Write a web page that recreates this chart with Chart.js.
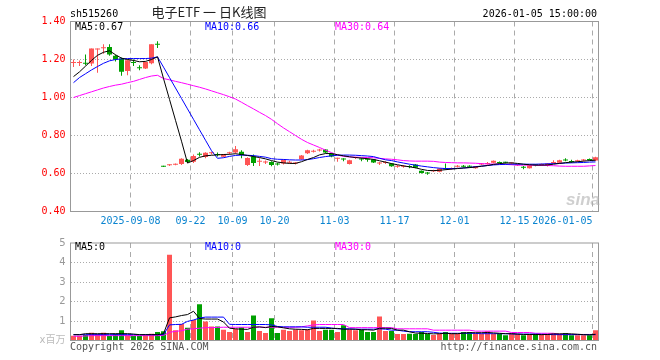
<!DOCTYPE html>
<html>
<head>
<meta charset="utf-8">
<title>电子ETF 日K线图</title>
<script src="https://cdn.jsdelivr.net/npm/chart.js@4.4.1/dist/chart.umd.min.js"></script>
<style>
  html, body { margin: 0; padding: 0; background: #fff; }
  #wrap { position: relative; width: 660px; height: 360px; }
  #wrap canvas { position: absolute; left: 0; }
  #kline { top: 0; }
  #volume { top: 232px; }
</style>
</head>
<body>
<div id="wrap">
  <canvas id="kline" width="660" height="232"></canvas>
  <canvas id="volume" width="660" height="128"></canvas>
</div>
<script>
// trading days shown on the chart
const dates = [
  '2025-08-25', '2025-08-26', '2025-08-27', '2025-08-28', '2025-08-29',
  '2025-09-01', '2025-09-02', '2025-09-03', '2025-09-04', '2025-09-05',
  '2025-09-08', '2025-09-09', '2025-09-10', '2025-09-11', '2025-09-12',
  '2025-09-15', '2025-09-16', '2025-09-17', '2025-09-18', '2025-09-19',
  '2025-09-22', '2025-09-23', '2025-09-24', '2025-09-25', '2025-09-26',
  '2025-09-29', '2025-09-30', '2025-10-09', '2025-10-10', '2025-10-13',
  '2025-10-14', '2025-10-15', '2025-10-16', '2025-10-17', '2025-10-20',
  '2025-10-21', '2025-10-22', '2025-10-23', '2025-10-24', '2025-10-27',
  '2025-10-28', '2025-10-29', '2025-10-30', '2025-10-31', '2025-11-03',
  '2025-11-04', '2025-11-05', '2025-11-06', '2025-11-07', '2025-11-10',
  '2025-11-11', '2025-11-12', '2025-11-13', '2025-11-14', '2025-11-17',
  '2025-11-18', '2025-11-19', '2025-11-20', '2025-11-21', '2025-11-24',
  '2025-11-25', '2025-11-26', '2025-11-27', '2025-11-28', '2025-12-01',
  '2025-12-02', '2025-12-03', '2025-12-04', '2025-12-05', '2025-12-08',
  '2025-12-09', '2025-12-10', '2025-12-11', '2025-12-12', '2025-12-15',
  '2025-12-16', '2025-12-17', '2025-12-18', '2025-12-19', '2025-12-22',
  '2025-12-23', '2025-12-24', '2025-12-25', '2025-12-26', '2025-12-29',
  '2025-12-30', '2025-12-31', '2026-01-05',
];

const tickDates = ['2025-09-08', '2025-09-22', '2025-10-09', '2025-10-20', '2025-11-03',
  '2025-11-17', '2025-12-01', '2025-12-15', '2026-01-05'];
const tickLabels = ['2025-09-08', '09-22', '10-09', '10-20', '11-03',
  '11-17', '12-01', '12-15', '2026-01-05'];

const priceOpen = [
  1.182, 1.182, 1.182, 1.179, 1.252, 1.259, 1.266, 1.220, 1.205, 1.140,
  1.186, 1.158, 1.153, 1.180, 1.282, 0.638, 0.643, 0.646, 0.650, 0.672,
  0.662, 0.703, 0.687, 0.706, 0.701, 0.688, 0.706, 0.710, 0.714, 0.645,
  0.690, 0.662, 0.658, 0.661, 0.651, 0.652, 0.657, 0.652, 0.675, 0.706,
  0.715, 0.721, 0.726, 0.705, 0.677, 0.677, 0.650, 0.681, 0.677, 0.676,
  0.674, 0.652, 0.655, 0.652, 0.636, 0.636, 0.637, 0.647, 0.614, 0.603,
  0.612, 0.609, 0.625, 0.624, 0.636, 0.639, 0.639, 0.627, 0.647, 0.650,
  0.656, 0.661, 0.660, 0.652, 0.643, 0.632, 0.628, 0.646, 0.645, 0.639,
  0.655, 0.656, 0.671, 0.663, 0.665, 0.668, 0.674, 0.668,
];
const priceClose = [
  1.186, 1.186, 1.178, 1.258, 1.256, 1.263, 1.226, 1.200, 1.135, 1.196,
  1.182, 1.154, 1.187, 1.280, 1.278, 0.636, 0.646, 0.649, 0.678, 0.660,
  0.692, 0.699, 0.709, 0.709, 0.697, 0.700, 0.709, 0.728, 0.698, 0.682,
  0.655, 0.665, 0.661, 0.645, 0.648, 0.672, 0.660, 0.655, 0.695, 0.722,
  0.718, 0.724, 0.710, 0.690, 0.680, 0.674, 0.670, 0.684, 0.674, 0.672,
  0.658, 0.655, 0.658, 0.638, 0.638, 0.638, 0.634, 0.630, 0.602, 0.600,
  0.615, 0.626, 0.622, 0.627, 0.639, 0.636, 0.636, 0.638, 0.650, 0.653,
  0.667, 0.655, 0.657, 0.655, 0.646, 0.630, 0.643, 0.643, 0.648, 0.653,
  0.658, 0.670, 0.668, 0.660, 0.668, 0.671, 0.671, 0.686,
];
const priceHigh = [
  1.200, 1.195, 1.226, 1.258, 1.258, 1.280, 1.280, 1.225, 1.210, 1.200,
  1.200, 1.170, 1.190, 1.280, 1.296, 0.641, 0.649, 0.652, 0.680, 0.676,
  0.700, 0.712, 0.712, 0.715, 0.710, 0.703, 0.714, 0.745, 0.723, 0.685,
  0.700, 0.680, 0.668, 0.664, 0.656, 0.674, 0.667, 0.660, 0.697, 0.725,
  0.725, 0.730, 0.728, 0.707, 0.683, 0.680, 0.672, 0.688, 0.683, 0.680,
  0.676, 0.660, 0.665, 0.654, 0.645, 0.645, 0.643, 0.650, 0.616, 0.608,
  0.620, 0.628, 0.652, 0.632, 0.645, 0.645, 0.644, 0.640, 0.655, 0.660,
  0.669, 0.663, 0.662, 0.658, 0.650, 0.640, 0.645, 0.650, 0.652, 0.655,
  0.670, 0.672, 0.680, 0.672, 0.672, 0.676, 0.679, 0.688,
];
const priceLow = [
  1.161, 1.166, 1.170, 1.166, 1.130, 1.230, 1.220, 1.190, 1.115, 1.117,
  1.166, 1.143, 1.150, 1.175, 1.261, 0.634, 0.640, 0.643, 0.645, 0.655,
  0.655, 0.690, 0.680, 0.700, 0.690, 0.685, 0.700, 0.705, 0.680, 0.640,
  0.640, 0.640, 0.650, 0.638, 0.642, 0.648, 0.652, 0.648, 0.672, 0.703,
  0.710, 0.716, 0.707, 0.686, 0.662, 0.665, 0.648, 0.676, 0.665, 0.662,
  0.655, 0.645, 0.650, 0.636, 0.630, 0.630, 0.628, 0.628, 0.600, 0.593,
  0.608, 0.606, 0.620, 0.620, 0.632, 0.632, 0.632, 0.625, 0.643, 0.646,
  0.654, 0.652, 0.652, 0.645, 0.640, 0.622, 0.626, 0.638, 0.640, 0.637,
  0.652, 0.654, 0.665, 0.655, 0.660, 0.664, 0.668, 0.666,
];

const ma5 = [
  1.110, 1.135, 1.165, 1.195, 1.222, 1.238, 1.246, 1.225, 1.207, 1.200,
  1.195, 1.188, 1.190, 1.200, 1.214, 1.100, 0.990, 0.880, 0.770, 0.655,
  0.668, 0.685, 0.693, 0.696, 0.698, 0.700, 0.701, 0.704, 0.700, 0.695,
  0.689, 0.684, 0.677, 0.668, 0.660, 0.656, 0.653, 0.653, 0.662, 0.674,
  0.684, 0.698, 0.705, 0.705, 0.699, 0.693, 0.688, 0.684, 0.681, 0.678,
  0.674, 0.667, 0.660, 0.652, 0.646, 0.640, 0.635, 0.630, 0.622, 0.616,
  0.615, 0.617, 0.620, 0.623, 0.626, 0.629, 0.631, 0.634, 0.638, 0.642,
  0.648, 0.652, 0.655, 0.656, 0.653, 0.649, 0.646, 0.644, 0.644, 0.645,
  0.649, 0.653, 0.657, 0.660, 0.662, 0.665, 0.668, 0.670,
];
const ma10 = [
  1.078, 1.105, 1.125, 1.145, 1.163, 1.180, 1.193, 1.200, 1.203, 1.205,
  1.205, 1.205, 1.205, 1.207, 1.214, 1.160, 1.105, 1.050, 0.995, 0.940,
  0.885, 0.830, 0.775, 0.720, 0.680, 0.683, 0.690, 0.695, 0.697, 0.696,
  0.694, 0.690, 0.686, 0.678, 0.675, 0.674, 0.672, 0.671, 0.671, 0.673,
  0.678, 0.684, 0.689, 0.693, 0.696, 0.697, 0.697, 0.696, 0.694, 0.692,
  0.689, 0.680, 0.672, 0.668, 0.661, 0.655, 0.649, 0.644, 0.639, 0.635,
  0.631, 0.628, 0.626, 0.626, 0.627, 0.629, 0.632, 0.636, 0.639, 0.642,
  0.645, 0.647, 0.648, 0.649, 0.649, 0.649, 0.649, 0.649, 0.650, 0.651,
  0.652, 0.653, 0.655, 0.656, 0.657, 0.658, 0.660, 0.661,
];
const ma30 = [
  1.000, 1.010, 1.020, 1.030, 1.040, 1.050, 1.058, 1.065, 1.070, 1.078,
  1.085, 1.095, 1.105, 1.113, 1.117, 1.100, 1.093, 1.085, 1.078, 1.070,
  1.062, 1.054, 1.045, 1.035, 1.025, 1.015, 1.004, 0.992, 0.975, 0.957,
  0.940, 0.922, 0.905, 0.885, 0.862, 0.840, 0.820, 0.800, 0.780, 0.763,
  0.750, 0.737, 0.723, 0.710, 0.697, 0.690, 0.687, 0.686, 0.685, 0.684,
  0.683, 0.680, 0.677, 0.675, 0.672, 0.668, 0.666, 0.665, 0.665, 0.665,
  0.664, 0.660, 0.658, 0.657, 0.656, 0.656, 0.655, 0.654, 0.652, 0.650,
  0.650, 0.649, 0.648, 0.646, 0.644, 0.644, 0.644, 0.643, 0.643, 0.642,
  0.641, 0.639, 0.638, 0.638, 0.638, 0.638, 0.640, 0.642,
];

// volume in millions (x百万)
const volume = [
  0.24, 0.24, 0.28, 0.40, 0.33, 0.40, 0.23, 0.35, 0.52, 0.27,
  0.23, 0.23, 0.27, 0.35, 0.44, 0.47, 4.40, 0.52, 0.85, 0.65,
  1.05, 1.86, 0.98, 0.72, 0.72, 0.55, 0.44, 0.60, 0.68, 0.44,
  1.28, 0.49, 0.39, 1.14, 0.39, 0.55, 0.49, 0.57, 0.52, 0.57,
  1.02, 0.49, 0.55, 0.55, 0.44, 0.78, 0.55, 0.52, 0.55, 0.44,
  0.44, 1.23, 0.49, 0.49, 0.33, 0.33, 0.35, 0.33, 0.44, 0.33,
  0.28, 0.35, 0.44, 0.35, 0.33, 0.44, 0.44, 0.35, 0.35, 0.47,
  0.33, 0.35, 0.27, 0.35, 0.33, 0.27, 0.33, 0.33, 0.33, 0.35,
  0.35, 0.35, 0.39, 0.27, 0.27, 0.27, 0.27, 0.52,
];
const volMa5 = [
  0.30, 0.30, 0.35, 0.35, 0.35, 0.35, 0.35, 0.35, 0.35, 0.35,
  0.33, 0.30, 0.30, 0.30, 0.30, 0.35, 1.16, 1.21, 1.28, 1.33,
  1.50, 1.13, 1.10, 1.10, 1.10, 0.95, 0.63, 0.60, 0.58, 0.57,
  0.68, 0.70, 0.66, 0.72, 0.70, 0.65, 0.60, 0.58, 0.57, 0.55,
  0.62, 0.62, 0.62, 0.62, 0.62, 0.58, 0.58, 0.58, 0.55, 0.55,
  0.53, 0.63, 0.63, 0.62, 0.53, 0.53, 0.45, 0.38, 0.37, 0.36,
  0.34, 0.35, 0.37, 0.35, 0.35, 0.38, 0.40, 0.40, 0.40, 0.41,
  0.39, 0.37, 0.35, 0.35, 0.33, 0.31, 0.31, 0.31, 0.30, 0.31,
  0.34, 0.34, 0.35, 0.34, 0.32, 0.30, 0.29, 0.32,
];
const volMa10 = [
  0.30, 0.30, 0.30, 0.30, 0.30, 0.30, 0.30, 0.30, 0.30, 0.30,
  0.30, 0.30, 0.30, 0.30, 0.30, 0.30, 0.80, 0.82, 0.83, 0.98,
  1.05, 1.15, 1.20, 1.20, 1.20, 1.20, 0.83, 0.82, 0.82, 0.82,
  0.82, 0.82, 0.82, 0.80, 0.72, 0.70, 0.70, 0.70, 0.70, 0.68,
  0.68, 0.68, 0.68, 0.64, 0.60, 0.60, 0.60, 0.58, 0.58, 0.58,
  0.58, 0.60, 0.58, 0.53, 0.53, 0.48, 0.45, 0.45, 0.45, 0.45,
  0.42, 0.38, 0.37, 0.37, 0.37, 0.37, 0.37, 0.36, 0.35, 0.35,
  0.35, 0.35, 0.35, 0.34, 0.33, 0.33, 0.33, 0.33, 0.32, 0.31,
  0.30, 0.30, 0.30, 0.30, 0.30, 0.30, 0.30, 0.30,
];
const volMa30 = [
  0.22, 0.22, 0.23, 0.25, 0.25, 0.25, 0.25, 0.25, 0.25, 0.25,
  0.25, 0.25, 0.25, 0.25, 0.25, 0.26, 0.42, 0.47, 0.50, 0.58,
  0.60, 0.63, 0.66, 0.66, 0.67, 0.68, 0.68, 0.68, 0.68, 0.68,
  0.68, 0.68, 0.68, 0.68, 0.68, 0.68, 0.68, 0.68, 0.70, 0.75,
  0.80, 0.82, 0.82, 0.82, 0.82, 0.82, 0.66, 0.66, 0.66, 0.66,
  0.66, 0.66, 0.66, 0.66, 0.60, 0.60, 0.60, 0.60, 0.60, 0.60,
  0.53, 0.53, 0.53, 0.53, 0.53, 0.53, 0.53, 0.48, 0.48, 0.48,
  0.48, 0.48, 0.48, 0.41, 0.41, 0.41, 0.41, 0.37, 0.37, 0.37,
  0.37, 0.31, 0.31, 0.31, 0.31, 0.31, 0.31, 0.31,
];

const priceMin = 0.4;
const priceMax = 1.4;
const priceStep = 0.2;
const volMax = 5;
const volStep = 1;
const volUnit = 'x百万';

const RED = '#ff5555';
const GREEN = '#00a000';
const GRID = '#aaaaaa';
const MONO = '"DejaVu Sans Mono", "Liberation Mono", monospace';

const candleColors = priceClose.map((c, i) => (c >= priceOpen[i] ? RED : GREEN));
const gridAtTick = (ctx) => (tickDates.includes(dates[ctx.index]) ? GRID : 'transparent');

// gray frame around the plot area plus the free texts of each panel
const framePlugin = {
  id: 'frameText',
  afterDraw(chart, args, opts) {
    const { ctx, chartArea: a } = chart;
    ctx.save();
    ctx.strokeStyle = '#999999';
    ctx.lineWidth = 1;
    ctx.strokeRect(a.left, a.top, a.right - a.left, a.bottom - a.top);
    (opts.texts || []).forEach((t) => {
      ctx.font = t.font || `10px ${MONO}`;
      ctx.fillStyle = t.color || '#000';
      ctx.textAlign = t.align || 'left';
      ctx.textBaseline = 'alphabetic';
      ctx.fillText(t.text, t.x, t.y);
    });
    ctx.restore();
  },
};

const lineSet = (label, data, color) => ({
  type: 'line',
  label,
  data,
  borderColor: color,
  borderWidth: 1,
  pointRadius: 0,
  tension: 0,
  order: 0,
});

const baseOptions = {
  responsive: false,
  devicePixelRatio: 1,
  animation: false,
  events: [],
};

new Chart(document.getElementById('kline'), {
  type: 'bar',
  data: {
    labels: dates,
    datasets: [
      lineSet('MA5', ma5, '#000000'),
      lineSet('MA10', ma10, '#0000ff'),
      lineSet('MA30', ma30, '#ff00ff'),
      {
        label: 'body',
        data: dates.map((d, i) => [Math.min(priceOpen[i], priceClose[i]), Math.max(priceOpen[i], priceClose[i])]),
        backgroundColor: candleColors,
        barThickness: 5,
        minBarLength: 1,
        inflateAmount: 0,
        grouped: false,
        order: 1,
      },
      {
        label: 'wick',
        data: dates.map((d, i) => [priceLow[i], priceHigh[i]]),
        backgroundColor: candleColors,
        barThickness: 1,
        inflateAmount: 0,
        grouped: false,
        order: 2,
      },
    ],
  },
  options: {
    ...baseOptions,
    layout: { padding: { left: 0.5, top: 21.5, right: 61.5, bottom: 0 } },
    plugins: {
      legend: { display: false },
      tooltip: { enabled: false },
      frameText: {
        texts: [
          { text: 'sh515260', x: 70, y: 17 },
          { text: '电子ETF 一 日K线图', x: 209, y: 17, align: 'center', font: '13px "Noto Sans CJK SC", sans-serif', color: '#222' },
          { text: '2026-01-05 15:00:00', x: 597, y: 17, align: 'right' },
          { text: `MA5:${ma5[ma5.length - 1].toFixed(2)}`, x: 75, y: 29.5, color: '#000000' },
          { text: `MA10:${ma10[ma10.length - 1].toFixed(2)}`, x: 205, y: 29.5, color: '#0000ff' },
          { text: `MA30:${ma30[ma30.length - 1].toFixed(2)}`, x: 335, y: 29.5, color: '#ff00ff' },
          { text: 'sina', x: 566, y: 205, font: 'bold italic 17px "Liberation Sans", sans-serif', color: 'rgba(175,175,175,0.6)' },
        ],
      },
    },
    scales: {
      x: {
        offset: true,
        grid: { offset: true, drawTicks: false, color: gridAtTick },
        border: { display: false, dash: [5, 4] },
        ticks: {
          autoSkip: false,
          maxRotation: 0,
          minRotation: 0,
          align: 'inner',
          labelOffset: -3,
          padding: 4,
          color: '#0a84d0',
          font: { family: MONO, size: 10 },
          callback: (v, i) => {
            const k = tickDates.indexOf(dates[i]);
            return k >= 0 ? tickLabels[k] : '';
          },
        },
        afterFit: (s) => { s.height = 20.5; },
      },
      y: {
        min: priceMin,
        max: priceMax,
        grid: {
          drawTicks: false,
          color: (ctx) => (ctx.tick && ctx.tick.value > priceMin + 0.01 && ctx.tick.value < priceMax - 0.01 ? GRID : 'transparent'),
        },
        border: { display: false, dash: [1, 2] },
        ticks: {
          stepSize: priceStep,
          padding: 5,
          color: '#ff0000',
          font: { family: MONO, size: 10 },
          callback: (v) => Number(v).toFixed(2),
        },
        afterFit: (s) => { s.width = 70; },
      },
    },
  },
  plugins: [framePlugin],
});

new Chart(document.getElementById('volume'), {
  type: 'bar',
  data: {
    labels: dates,
    datasets: [
      lineSet('MA5', volMa5, '#000000'),
      lineSet('MA10', volMa10, '#0000ff'),
      lineSet('MA30', volMa30, '#ff00ff'),
      {
        label: 'volume',
        data: volume,
        backgroundColor: candleColors,
        barThickness: 5,
        inflateAmount: 0,
        order: 1,
      },
    ],
  },
  options: {
    ...baseOptions,
    layout: { padding: { left: 0.5, top: 8.5, right: 61.5, bottom: 19.5 } },
    plugins: {
      legend: { display: false },
      tooltip: { enabled: false },
      frameText: {
        texts: [
          { text: 'MA5:0', x: 75, y: 17.5, color: '#000000' },
          { text: 'MA10:0', x: 205, y: 17.5, color: '#0000ff' },
          { text: 'MA30:0', x: 335, y: 17.5, color: '#ff00ff' },
          { text: 'Copyright 2026 SINA.COM', x: 70, y: 117.5, color: '#555' },
          { text: 'http://finance.sina.com.cn', x: 597, y: 117.5, align: 'right', color: '#555' },
        ],
      },
    },
    scales: {
      x: {
        offset: true,
        grid: { offset: true, drawTicks: false, color: gridAtTick },
        border: { display: false, dash: [5, 4] },
        ticks: { display: false, autoSkip: false },
        afterFit: (s) => { s.height = 0; },
      },
      y: {
        min: 0,
        max: volMax,
        grid: {
          drawTicks: false,
          color: (ctx) => (ctx.tick && ctx.tick.value > 0 && ctx.tick.value < volMax ? GRID : 'transparent'),
        },
        border: { display: false, dash: [1, 2] },
        ticks: {
          stepSize: volStep,
          padding: 5,
          color: (ctx) => (ctx.tick && ctx.tick.value === 0 ? '#bbbbbb' : '#999999'),
          font: { family: '"DejaVu Sans", "Noto Sans CJK SC", sans-serif', size: 10 },
          callback: (v) => (v === 0 ? volUnit : String(v)),
        },
        afterFit: (s) => { s.width = 70; },
      },
    },
  },
  plugins: [framePlugin],
});
</script>
</body>
</html>
